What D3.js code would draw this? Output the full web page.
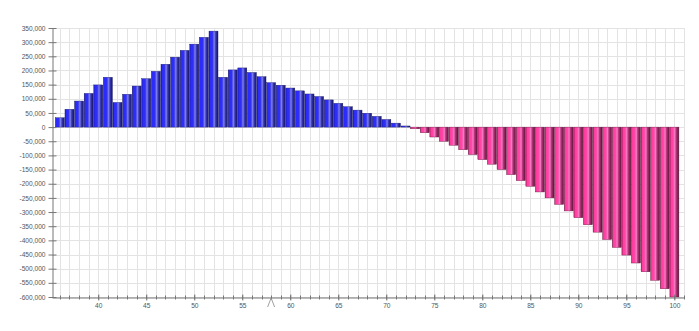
<!DOCTYPE html>
<html>
<head>
<meta charset="utf-8">
<script src="https://cdn.jsdelivr.net/npm/d3@7"></script>
<style>
  body { margin: 0; background: #fff; }
  svg { display: block; font-family: "Liberation Sans", Arial, sans-serif; }
</style>
</head>
<body>
<svg id="chart" width="699" height="331"></svg>
<script>
// categories (x) and values
const categories = [36, 37, 38, 39, 40, 41, 42, 43, 44, 45, 46, 47, 48, 49, 50,
  51, 52, 53, 54, 55, 56, 57, 58, 59, 60, 61, 62, 63, 64, 65, 66, 67, 68, 69, 70,
  71, 72, 73, 74, 75, 76, 77, 78, 79, 80, 81, 82, 83, 84, 85, 86, 87, 88, 89, 90,
  91, 92, 93, 94, 95, 96, 97, 98, 99, 100];
const values = [33000, 63000, 92000, 119000, 149000, 176000, 87000, 116000, 145000, 171000,
  197000, 222000, 247000, 271000, 293000, 317000, 339000, 176000, 202000, 209000,
  193000, 178000, 157000, 148000, 138000, 128000, 117000, 108000, 96000, 84000,
  72000, 60000, 49000, 38000, 27000, 14000, 4000, -6000, -20000, -35000,
  -50000, -64000, -80000, -97000, -115000, -131000, -150000, -168000, -189000, -209000,
  -229000, -250000, -273000, -296000, -320000, -345000, -371000, -397000, -425000, -452000,
  -480000, -511000, -541000, -571000, -600000];
const yTicks = [350000, 300000, 250000, 200000, 150000, 100000, 50000, 0, -50000, -100000,
  -150000, -200000, -250000, -300000, -350000, -400000, -450000, -500000, -550000, -600000];
const xTicks = [40, 45, 50, 55, 60, 65, 70, 75, 80, 85, 90, 95, 100];
const markerAt = 58;

const svg = d3.select('#chart');
const plotL = 52, plotR = 684, plotT = 28, plotB = 297;

const x = d3.scaleLinear().domain([35.18, 101.0]).range([plotL, plotR]);
const y = d3.scaleLinear().domain([-600000, 350000]).range([plotB, plotT]);

const fmt = v => (v < 0 ? '-' : '') + d3.format(',')(Math.abs(v));

// gradients for the tube-like bars
const defs = svg.append('defs');
function grad(id, stops) {
  const g = defs.append('linearGradient').attr('id', id)
    .attr('x1', '0%').attr('x2', '100%').attr('y1', '0%').attr('y2', '0%');
  stops.forEach(s => g.append('stop').attr('offset', s[0]).attr('stop-color', s[1]));
}
grad('gBlue', [[0, '#1a1a70'], [0.1, '#2a2aff'], [0.38, '#3030f2'], [0.58, '#8080e8'],
  [0.76, '#3434ac'], [1, '#15155e']]);
grad('gPink', [[0, '#8a1f55'], [0.1, '#ff3a9e'], [0.36, '#ff48a8'], [0.54, '#f27cc2'],
  [0.7, '#b4357a'], [1, '#5a1336']]);

// grid
const grid = svg.append('g').attr('stroke', '#e3e3e3').attr('stroke-width', 1);
grid.selectAll('line.h').data(yTicks).enter().append('line')
  .attr('x1', plotL).attr('x2', plotR)
  .attr('y1', d => Math.round(y(d)) + 0.5).attr('y2', d => Math.round(y(d)) + 0.5);
grid.selectAll('line.v').data(categories).enter().append('line')
  .attr('y1', plotT).attr('y2', plotB)
  .attr('x1', d => Math.round(x(d)) + 0.5).attr('x2', d => Math.round(x(d)) + 0.5);
grid.append('line').attr('x1', plotR + 0.5).attr('x2', plotR + 0.5).attr('y1', plotT).attr('y2', plotB);

// bars
svg.append('g').selectAll('rect')
  .data(categories.map((c, i) => ({c: c, v: values[i]})))
  .enter().append('rect')
  .attr('x', d => x(d.c - 0.5) + 0.3)
  .attr('width', d => x(d.c + 0.5) - x(d.c - 0.5) - 0.6)
  .attr('y', d => y(Math.max(0, d.v)))
  .attr('height', d => Math.abs(y(d.v) - y(0)))
  .attr('fill', d => d.v >= 0 ? 'url(#gBlue)' : 'url(#gPink)')
  .attr('stroke', d => d.v >= 0 ? '#1a1a6e' : '#6a1640')
  .attr('stroke-width', 0.4);

// y axis
const yAxis = svg.append('g')
  .attr('transform', 'translate(' + (plotL + 0.5) + ',0)')
  .call(d3.axisLeft(y).tickValues(yTicks).tickFormat(fmt).tickSizeInner(4).tickSizeOuter(0).tickPadding(3));
yAxis.select('.domain').attr('stroke', '#777');
yAxis.selectAll('.tick line').attr('x1', 4).attr('stroke', '#777');
yAxis.selectAll('.tick text').attr('fill', '#555').style('font-size', '6.6px');

// x axis
const xAxis = svg.append('g')
  .attr('transform', 'translate(0,' + (plotB + 0.5) + ')')
  .call(d3.axisBottom(x).tickValues(xTicks).tickFormat(d3.format('d')).tickSizeInner(3).tickSizeOuter(0).tickPadding(3));
xAxis.select('.domain').attr('stroke', '#777');
xAxis.selectAll('.tick line').attr('y1', -3).attr('stroke', '#777');
xAxis.selectAll('.tick text').attr('fill', '#555').style('font-size', '6.6px');
xAxis.selectAll('line.minor').data(categories.concat([101.0])).enter().append('line')
  .attr('class', 'minor')
  .attr('x1', d => Math.round(x(d)) + 0.5).attr('x2', d => Math.round(x(d)) + 0.5)
  .attr('y1', -2).attr('y2', 2).attr('stroke', '#777');

// position marker under the axis
const mx = x(markerAt);
svg.append('path')
  .attr('d', 'M' + (mx - 3.5) + ',307 L' + mx + ',298 L' + (mx + 3.5) + ',307')
  .attr('fill', 'none').attr('stroke', '#888').attr('stroke-width', 0.8);
</script>
</body>
</html>
